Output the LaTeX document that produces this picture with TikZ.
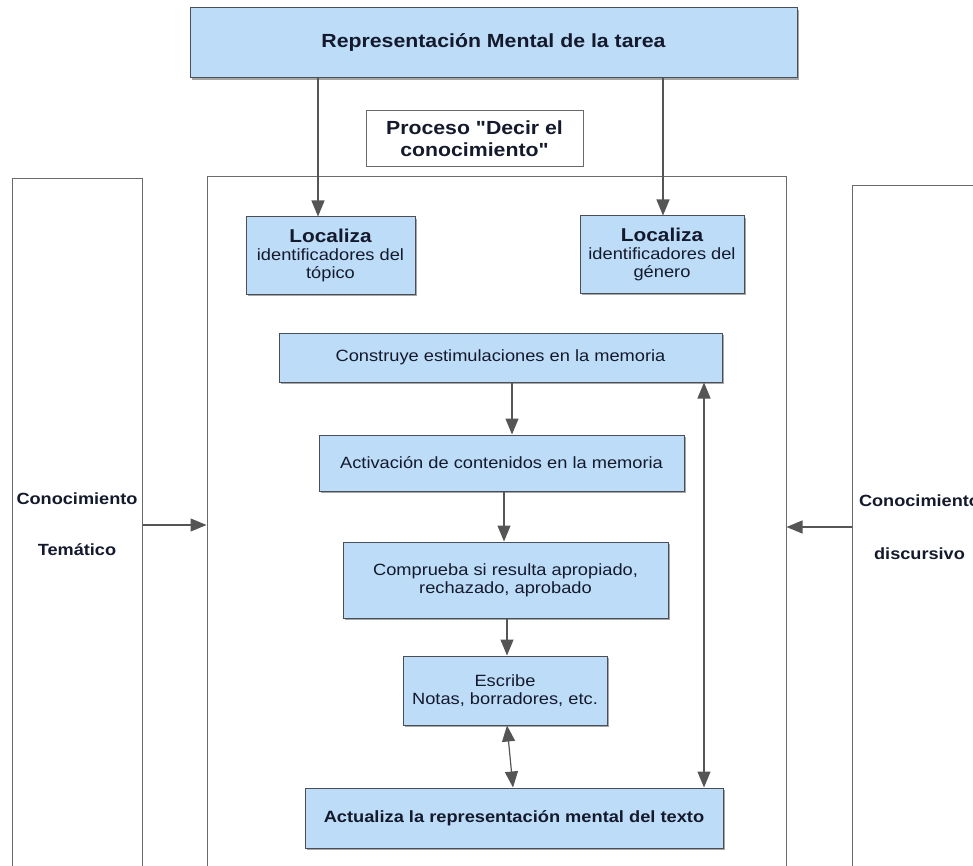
\documentclass[tikz,border=0pt]{standalone}
\usepackage{fontspec}
\setmainfont{Liberation Sans}[FakeStretch=1.12, Ligatures=TeXOff]
\usetikzlibrary{arrows.meta,shadows,calc}
\definecolor{boxblue}{HTML}{BDDCF8}
\definecolor{edgecol}{HTML}{4A4F57}
\definecolor{inkcol}{HTML}{141A2C}
\definecolor{arrowgray}{HTML}{555555}
\definecolor{framegray}{HTML}{6A6A6A}
\begin{document}
\begin{tikzpicture}[x=1pt,y=-1pt,
  bluebox/.style={draw=edgecol, line width=1pt, fill=boxblue, inner sep=0pt, align=center, text=inkcol,
    drop shadow={shadow xshift=2pt, shadow yshift=-2pt, fill=black, opacity=0.35}},
  plainbox/.style={draw=framegray, line width=1pt, inner sep=0pt, align=center, text=inkcol},
  regtext/.style={font=\fontsize{16.3}{18}\selectfont},
  arr/.style={draw=arrowgray, line width=1.2pt, -{Triangle[length=16pt,width=13pt]}},
  darr/.style={draw=arrowgray, line width=1.2pt, {Triangle[length=16pt,width=13pt]}-{Triangle[length=16pt,width=13pt]}},
]
\useasboundingbox (0,0) rectangle (973,866);
\fill[white] (0,0) rectangle (973,866);
\clip (0,0) rectangle (973,866);

% outer frames
\node[plainbox, font=\fontsize{16.2}{18}\selectfont\bfseries, minimum width=130pt, minimum height=690pt] (left) at (77,524) {Conocimiento\\[33pt]Temático};
\node[plainbox, minimum width=579pt, minimum height=703pt] (main) at (496.5,528.5) {};
\node[plainbox, font=\fontsize{16.2}{18}\selectfont\bfseries, minimum width=135pt, minimum height=682pt] (right) at (919.5,527) {Conocimiento\\[35pt]discursivo};

% top
\node[bluebox, font=\fontsize{19}{22}\selectfont\bfseries, minimum width=607pt, minimum height=70pt] (top) at (493.5,43) {Representación Mental de la tarea};
\node[plainbox, font=\fontsize{19}{22}\selectfont\bfseries, minimum width=217pt, minimum height=56pt] (proc) at (474.5,139) {Proceso "Decir el\\conocimiento"};

% localiza boxes
\node[bluebox, font=\fontsize{16.3}{18}\selectfont, minimum width=169pt, minimum height=77pt] (locL) at (330.5,255.5) {{\fontsize{18.6}{20}\selectfont\bfseries Localiza}\\identificadores del\\tópico};
\node[bluebox, font=\fontsize{16.3}{18}\selectfont, minimum width=164pt, minimum height=77pt] (locR) at (662,254.5) {{\fontsize{18.6}{20}\selectfont\bfseries Localiza}\\identificadores del\\género};

% flow boxes
\node[bluebox, regtext, minimum width=443pt, minimum height=49pt] (cons) at (500.5,357.5) {Construye estimulaciones en la memoria};
\node[bluebox, regtext, minimum width=365pt, minimum height=56pt] (act) at (501.5,463) {Activación de contenidos en la memoria};
\node[bluebox, regtext, minimum width=325pt, minimum height=76pt] (comp) at (505.5,580) {Comprueba si resulta apropiado,\\rechazado, aprobado};
\node[bluebox, regtext, minimum width=204pt, minimum height=69pt] (escr) at (505,690.5) {Escribe\\Notas, borradores, etc.};
\node[bluebox, font=\fontsize{16.3}{18}\selectfont\bfseries, minimum width=418pt, minimum height=60pt] (actu) at (514,818) {Actualiza la representación mental del texto};

% helper x positions
\coordinate (xL) at (318,0);
\coordinate (xR) at (663,0);
\coordinate (x1) at (512,0);
\coordinate (x2) at (504,0);
\coordinate (x3) at (507,0);
\coordinate (x4a) at (507,0);
\coordinate (x4b) at (513,0);
\coordinate (x5) at (704,0);

% connectors
\draw[arr] (top.south -| xL) -- (locL.north -| xL);
\draw[arr] (top.south -| xR) -- (locR.north -| xR);
\draw[arr] (left.east |- 0,525) -- (main.west |- 0,525);
\draw[arr] (right.west |- 0,527) -- (main.east |- 0,527);
\draw[arr] (cons.south -| x1) -- (act.north -| x1);
\draw[arr] (act.south -| x2) -- (comp.north -| x2);
\draw[arr] (comp.south -| x3) -- (escr.north -| x3);
\draw[darr] (escr.south -| x4a) -- (actu.north -| x4b);
\draw[darr] (cons.south -| x5) -- (actu.north -| x5);
\end{tikzpicture}
\end{document}
